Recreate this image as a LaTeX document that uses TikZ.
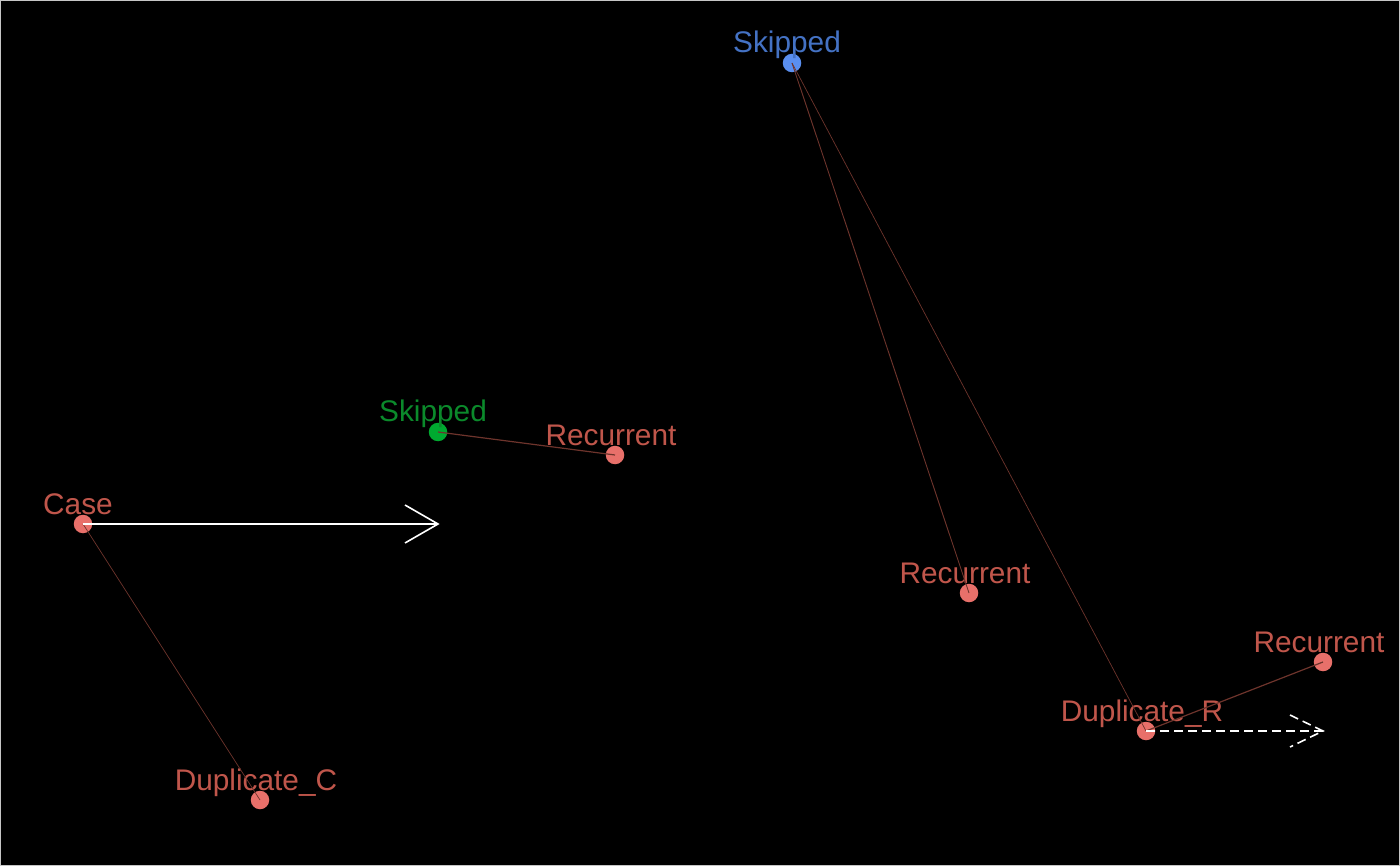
\documentclass[tikz,border=0pt]{standalone}
\usepackage{fontspec}
\setmainfont{Liberation Sans}
\usetikzlibrary{calc}
\definecolor{dotred}{HTML}{E8706A}
\definecolor{labred}{HTML}{C0564B}
\definecolor{dotgreen}{HTML}{00AA30}
\definecolor{labgreen}{HTML}{0B8A2B}
\definecolor{dotblue}{HTML}{5A8FF0}
\definecolor{labblue}{HTML}{4472C4}
\definecolor{edgec}{HTML}{6E342C}
\tikzset{
  dot/.style={circle,inner sep=0pt,minimum size=18.5pt},
  lab/.style={anchor=base,inner sep=0pt,font=\fontsize{29.8}{32}\selectfont},
  edge/.style={draw=edgec,line width=0.9pt},
  arr/.style={draw=white,line width=1.6pt},
}
\begin{document}
\begin{tikzpicture}[x=1pt,y=-1pt]
\fill[black] (0,0) rectangle (1400,866);
\draw[gray!45,line width=1pt] (0.5,0.5) rectangle (1399.5,865.5);
\useasboundingbox (0,0) rectangle (1400,866);
% dots
\node[dot,fill=dotred] (case) at (83,524) {};
\node[dot,fill=dotred] (dupc) at (260,800) {};
\node[dot,fill=dotgreen] (skg) at (438,432) {};
\node[dot,fill=dotred] (rec1) at (615,455) {};
\node[dot,fill=dotblue] (skb) at (792,63) {};
\node[dot,fill=dotred] (rec2) at (969,593) {};
\node[dot,fill=dotred] (rec3) at (1323,662) {};
\node[dot,fill=dotred] (dupr) at (1146,731) {};
% labels
\node[lab,text=labred] (lcase) at (78,514) {Case};
\node[lab,text=labred] (ldupc) at (256,790) {Duplicate\_C};
\node[lab,text=labgreen] (lskg) at (433,421) {Skipped};
\node[lab,text=labred] (lrec1) at (611,445) {Recurrent};
\node[lab,text=labblue] (lskb) at (787,53) {Skipped};
\node[lab,text=labred] (lrec2) at (965,583) {Recurrent};
\node[lab,text=labred] (lrec3) at (1319,652) {Recurrent};
\node[lab,text=labred] (ldupr) at (1142,721) {Duplicate\_R};
% edges
\draw[edge,line width=0.7pt] (case.center) -- (dupc.center);
\draw[edge,line width=1.2pt] (skg.center) -- (rec1.center);
\draw[edge] (skb.center) -- (rec2.center);
\draw[edge,line width=0.7pt] (skb.center) -- (dupr.center);
\draw[edge,line width=1.2pt] (dupr.center) -- (rec3.center);
% arrows
\coordinate (tip1) at (438,524);
\draw[arr] (case.center) -- (tip1);
\draw[arr] ($(tip1)+(-33,-19)$) -- (tip1) -- ($(tip1)+(-33,19)$);
\coordinate (tip2) at (1323,731);
\draw[arr,dash pattern=on 9pt off 5pt] (dupr.center) -- (tip2);
\draw[arr,dash pattern=on 9pt off 5pt] ($(tip2)+(-33,-16)$) -- (tip2) -- ($(tip2)+(-33,16)$);
\end{tikzpicture}
\end{document}
